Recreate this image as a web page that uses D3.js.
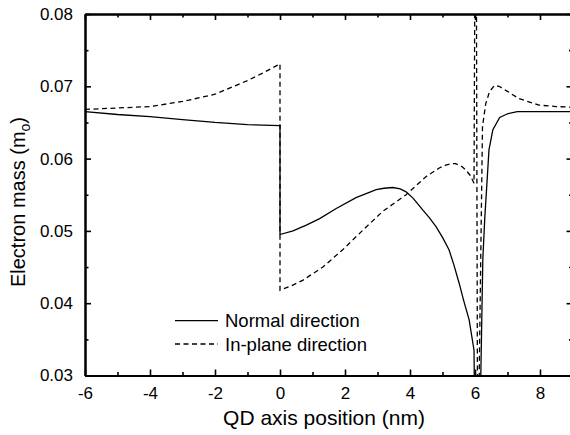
<!DOCTYPE html>
<html>
<head>
<meta charset="utf-8">
<script src="https://cdn.jsdelivr.net/npm/d3@7"></script>
<style>
  body { margin: 0; background: #fff; }
  svg { display: block; font-family: "Liberation Sans", Arial, sans-serif; }
  .axis path, .axis line { stroke: #000; }
  .axis text { fill: #000; }
</style>
</head>
<body>
<svg id="svg" width="570" height="435"></svg>
<script>
// position (nm), electron mass (m0)
const normalX = [-6, -5, -4, -3, -2, -1, 0, 0, 0.4, 0.81, 1.22, 1.73, 2.34, 2.96, 3.2, 3.47, 3.7, 3.88, 4.1, 4.39, 4.6, 4.8, 5.0, 5.2, 5.35, 5.51, 5.65, 5.82, 5.97, 6.0, 6.16, 6.24, 6.3, 6.43, 6.55, 6.76, 7.0, 7.3, 8, 9];
const normalY = [0.0665, 0.0661, 0.0658, 0.0654, 0.0650, 0.0647, 0.06455, 0.0495, 0.0500, 0.0508, 0.0517, 0.0531, 0.0546, 0.0557, 0.0559, 0.0560, 0.0558, 0.0554, 0.0545, 0.0529, 0.0518, 0.0506, 0.0491, 0.0474, 0.0453, 0.0428, 0.0404, 0.0377, 0.0335, 0.02, 0.025, 0.046, 0.0517, 0.0612, 0.0640, 0.0657, 0.0662, 0.0665, 0.0665, 0.0665];

const inplaneX = [-6, -5, -4, -3, -2, -1, -0.5, 0, 0, 0.35, 0.71, 1.32, 1.93, 2.55, 3.16, 3.88, 4.49, 4.9, 5.1, 5.26, 5.4, 5.6, 5.72, 5.85, 5.97, 6.0, 6.04, 6.08, 6.1, 6.23, 6.33, 6.45, 6.6, 6.74, 7.0, 7.35, 7.97, 8.5, 9];
const inplaneY = [0.0668, 0.0670, 0.0672, 0.0679, 0.0689, 0.0708, 0.0719, 0.0731, 0.0418, 0.0424, 0.0432, 0.0450, 0.0474, 0.0501, 0.0527, 0.0550, 0.0575, 0.0587, 0.0591, 0.0593, 0.0593, 0.0589, 0.0584, 0.0577, 0.0566, 0.09, 0.09, 0.02, 0.02, 0.0644, 0.0676, 0.0693, 0.0701, 0.0700, 0.0693, 0.0683, 0.0674, 0.0672, 0.0671];

const xTicks = [-6, -4, -2, 0, 2, 4, 6, 8];
const xMinor = [-5, -3, -1, 1, 3, 5, 7];
const yTicks = [0.03, 0.04, 0.05, 0.06, 0.07, 0.08];
const yMinor = [0.035, 0.045, 0.055, 0.065, 0.075];
const legendLabels = ["Normal direction", "In-plane direction"];

const mLeft = 85, mTop = 14, mRight = 572.5, mBottom = 375.5;

const svg = d3.select("#svg");
const x = d3.scaleLinear().domain([-6, 9]).range([mLeft, mRight]);
const y = d3.scaleLinear().domain([0.03, 0.08]).range([mBottom, mTop]);

svg.append("clipPath").attr("id", "plot")
  .append("rect").attr("x", mLeft).attr("y", mTop).attr("width", mRight - mLeft).attr("height", mBottom - mTop);

const line = d3.line().x(d => x(d[0])).y(d => y(d[1]));
const normal = normalX.map((v, i) => [v, normalY[i]]);
const inplane = inplaneX.map((v, i) => [v, inplaneY[i]]);

const plot = svg.append("g").attr("clip-path", "url(#plot)");
plot.append("path").datum(normal).attr("d", line)
  .attr("fill", "none").attr("stroke", "#000").attr("stroke-width", 1.3);
plot.append("path").datum(inplane).attr("d", line)
  .attr("fill", "none").attr("stroke", "#000").attr("stroke-width", 1.3)
  .attr("stroke-dasharray", "5,3.5");

// axes, ticks pointing inward on all four sides
const major = 6, minor = 3.5;

svg.append("g").attr("class", "axis").attr("transform", `translate(0,${mBottom})`)
  .call(d3.axisBottom(x).tickValues(xMinor).tickSize(-minor).tickSizeOuter(0).tickFormat(""));
svg.append("g").attr("class", "axis").attr("transform", `translate(0,${mBottom})`)
  .call(d3.axisBottom(x).tickValues(xTicks).tickSize(-major).tickSizeOuter(0).tickPadding(11).tickFormat(d => String(d)))
  .call(g => g.selectAll("text").style("font-size", "17px"));
svg.append("g").attr("class", "axis").attr("transform", `translate(0,${mTop})`)
  .call(d3.axisTop(x).tickValues(xMinor).tickSize(-minor).tickSizeOuter(0).tickFormat(""));
svg.append("g").attr("class", "axis").attr("transform", `translate(0,${mTop})`)
  .call(d3.axisTop(x).tickValues(xTicks).tickSize(-major).tickSizeOuter(0).tickFormat(""));

svg.append("g").attr("class", "axis").attr("transform", `translate(${mLeft},0)`)
  .call(d3.axisLeft(y).tickValues(yMinor).tickSize(-minor).tickSizeOuter(0).tickFormat(""));
svg.append("g").attr("class", "axis").attr("transform", `translate(${mLeft},0)`)
  .call(d3.axisLeft(y).tickValues(yTicks).tickSize(-major).tickSizeOuter(0).tickPadding(12).tickFormat(d3.format(".2f")))
  .call(g => g.selectAll("text").style("font-size", "17px"));
svg.append("g").attr("class", "axis").attr("transform", `translate(${mRight},0)`)
  .call(d3.axisRight(y).tickValues(yMinor).tickSize(-minor).tickSizeOuter(0).tickFormat(""));
svg.append("g").attr("class", "axis").attr("transform", `translate(${mRight},0)`)
  .call(d3.axisRight(y).tickValues(yTicks).tickSize(-major).tickSizeOuter(0).tickFormat(""));

svg.selectAll(".axis path.domain").attr("stroke-width", 2);
svg.selectAll(".axis .tick line").attr("stroke-width", 1.6);

// axis titles
svg.append("text").attr("x", 324).attr("y", 425).attr("text-anchor", "middle")
  .style("font-size", "21px").text("QD axis position (nm)");
const yt = svg.append("text").attr("transform", "translate(25,202) rotate(-90)")
  .attr("text-anchor", "middle").style("font-size", "20px");
yt.append("tspan").text("Electron mass (m");
yt.append("tspan").attr("dy", 5).style("font-size", "14px").text("o");
yt.append("tspan").attr("dy", -5).text(")");

// legend
const legend = svg.append("g");
legendLabels.forEach((label, i) => {
  const ly = 320.7 + i * 23.3;
  legend.append("line").attr("x1", 175).attr("x2", 218).attr("y1", ly).attr("y2", ly)
    .attr("stroke", "#000").attr("stroke-width", 1.3)
    .attr("stroke-dasharray", i === 1 ? "5,3.5" : null);
  legend.append("text").attr("x", 225).attr("y", ly + 6.5)
    .style("font-size", "18.5px").text(label);
});
</script>
</body>
</html>
